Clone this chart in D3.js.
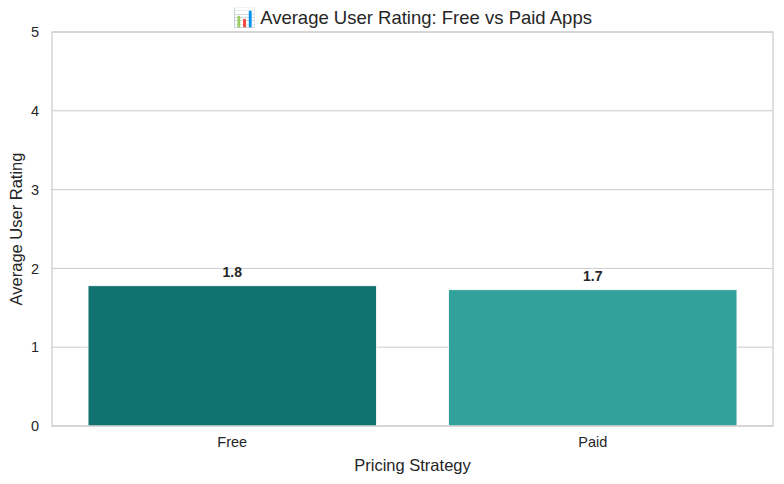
<!DOCTYPE html>
<html>
<head>
<meta charset="utf-8">
<script src="https://cdn.jsdelivr.net/npm/d3@7"></script>
<style>
  body { margin: 0; background: #fff; }
  text { font-family: "Liberation Sans", Arial, sans-serif; fill: #262626; }
</style>
</head>
<body>
<div id="chart"></div>
<script>
// Data
var categories = ["Free", "Paid"];
var ratings = [1.78, 1.73];
var barColors = ["#127270", "#33a19b"];
var yTicks = [0, 1, 2, 3, 4, 5];

var svgWidth = 784;
var svgHeight = 484;

var chartMargin = { top: 32, right: 11, bottom: 58, left: 52 };
var chartWidth = svgWidth - chartMargin.left - chartMargin.right;
var chartHeight = svgHeight - chartMargin.top - chartMargin.bottom;

var svg = d3.select("#chart")
  .append("svg")
  .attr("width", svgWidth)
  .attr("height", svgHeight);

var chartGroup = svg.append("g")
  .attr("transform", `translate(${chartMargin.left}, ${chartMargin.top})`);

var xScale = d3.scaleBand()
  .domain(categories)
  .range([0, chartWidth])
  .paddingInner(0.2)
  .paddingOuter(0.1);

var yScale = d3.scaleLinear()
  .domain([0, 5])
  .range([chartHeight, 0]);

// gridlines
chartGroup.selectAll(".grid")
  .data(yTicks)
  .enter()
  .append("line")
  .attr("x1", 0)
  .attr("x2", chartWidth)
  .attr("y1", d => yScale(d))
  .attr("y2", d => yScale(d))
  .attr("stroke", "#cccccc")
  .attr("stroke-width", 1);

// bars
chartGroup.selectAll("rect.bar")
  .data(ratings)
  .enter()
  .append("rect")
  .attr("class", "bar")
  .attr("x", (d, i) => xScale(categories[i]))
  .attr("y", d => yScale(d))
  .attr("width", xScale.bandwidth())
  .attr("height", d => chartHeight - yScale(d))
  .attr("fill", (d, i) => barColors[i])
  .attr("stroke", "#ffffff")
  .attr("stroke-width", 0.8);

// value labels
chartGroup.selectAll("text.value")
  .data(ratings)
  .enter()
  .append("text")
  .attr("class", "value")
  .attr("x", (d, i) => xScale(categories[i]) + xScale.bandwidth() / 2)
  .attr("y", d => yScale(d) - 9)
  .attr("text-anchor", "middle")
  .style("font-size", "14px")
  .style("font-weight", "bold")
  .text(d => d.toFixed(1));

// frame (spines)
chartGroup.append("rect")
  .attr("x", 0)
  .attr("y", 0)
  .attr("width", chartWidth)
  .attr("height", chartHeight)
  .attr("fill", "none")
  .attr("stroke", "#cccccc")
  .attr("stroke-width", 1.25);

// axes
var bottomAxis = d3.axisBottom(xScale).tickSize(0).tickPadding(11);
var leftAxis = d3.axisLeft(yScale).tickValues(yTicks).tickFormat(d3.format("d")).tickSize(0).tickPadding(13);

var xAxis = chartGroup.append("g")
  .attr("transform", `translate(0, ${chartHeight})`)
  .call(bottomAxis);
var yAxis = chartGroup.append("g").call(leftAxis);

[xAxis, yAxis].forEach(function (ax) {
  ax.select(".domain").remove();
  ax.selectAll("text")
    .style("font-size", "14.5px")
    .style("font-family", "'Liberation Sans', Arial, sans-serif")
    .attr("fill", "#262626");
});

// axis labels
svg.append("text")
  .attr("x", chartMargin.left + chartWidth / 2)
  .attr("y", 471)
  .attr("text-anchor", "middle")
  .style("font-size", "16.5px")
  .text("Pricing Strategy");

svg.append("text")
  .attr("transform", "rotate(-90)")
  .attr("x", -(chartMargin.top + chartHeight / 2))
  .attr("y", 22)
  .attr("text-anchor", "middle")
  .style("font-size", "16.5px")
  .text("Average User Rating");

// title
svg.append("text")
  .attr("x", chartMargin.left + chartWidth / 2)
  .attr("y", 24)
  .attr("text-anchor", "middle")
  .style("font-size", "18.5px")
  .text("📊 Average User Rating: Free vs Paid Apps");
</script>
</body>
</html>
